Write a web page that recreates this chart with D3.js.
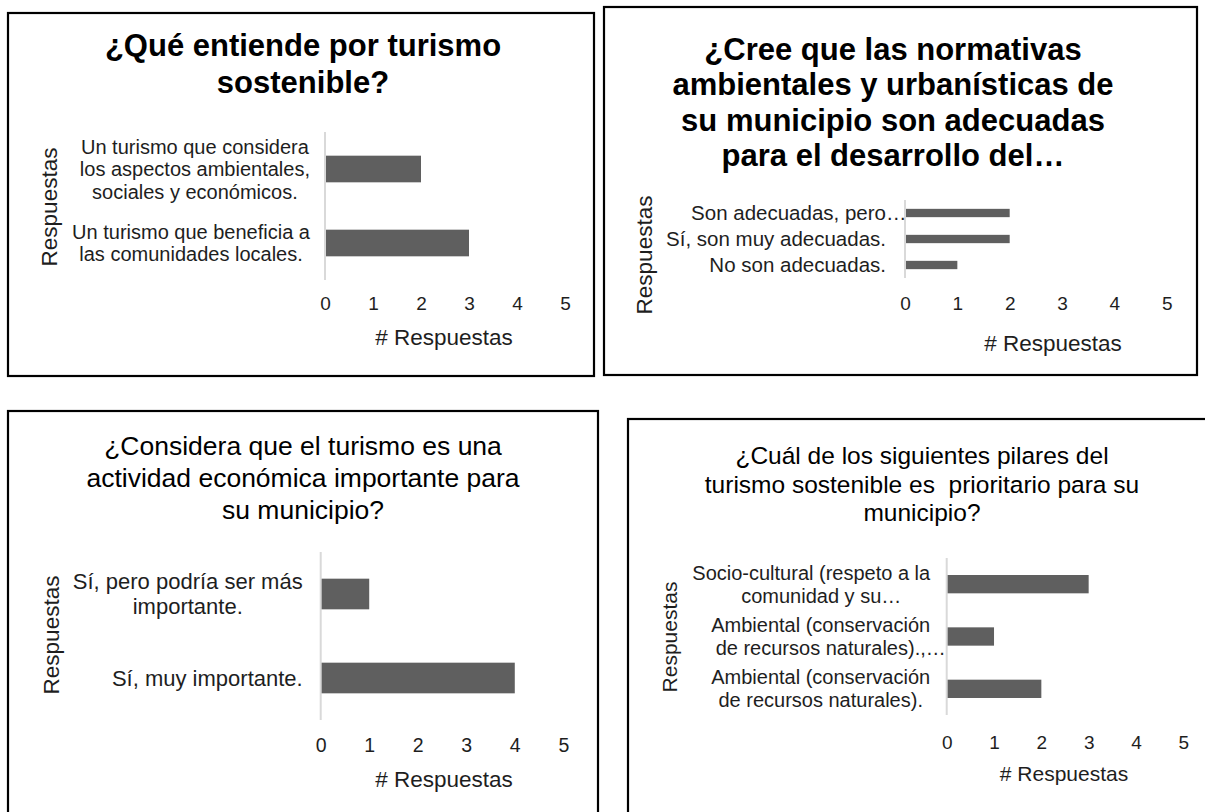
<!DOCTYPE html>
<html>
<head>
<meta charset="utf-8">
<script src="https://cdn.jsdelivr.net/npm/d3@7"></script>
<style>
  body { margin: 0; background: #fff; }
  svg { display: block; }
</style>
</head>
<body>
<svg id="chart"></svg>
<script>
// ---- data ----
const tickValues = [0, 1, 2, 3, 4, 5];
const xAxisTitle = '# Respuestas';
const yAxisTitle = 'Respuestas';

const q1Title = ['¿Qué entiende por turismo', 'sostenible?'];
const q1Answers = [
  ['Un turismo que considera', 'los aspectos ambientales,', 'sociales y económicos.'],
  ['Un turismo que beneficia a', 'las comunidades locales.']
];
const q1Counts = [2, 3];

const q2Title = ['¿Cree que las normativas', 'ambientales y urbanísticas de', 'su municipio son adecuadas', 'para el desarrollo del…'];
const q2Answers = [['Son adecuadas, pero…'], ['Sí, son muy adecuadas.'], ['No son adecuadas.']];
const q2Counts = [2, 2, 1];

const q3Title = ['¿Considera que el turismo es una', 'actividad económica importante para', 'su municipio?'];
const q3Answers = [['Sí, pero podría ser más', 'importante.'], ['Sí, muy importante.']];
const q3Counts = [1, 4];

const q4Title = ['¿Cuál de los siguientes pilares del', 'turismo sostenible es  prioritario para su', 'municipio?'];
const q4Answers = [
  ['Socio-cultural (respeto a la', 'comunidad y su…'],
  ['Ambiental (conservación', 'de recursos naturales).,…'],
  ['Ambiental (conservación', 'de recursos naturales).']
];
const q4Counts = [3, 1, 2];

// ---- layout ----
const W = 1205, H = 812;
const FONT = '"Liberation Sans", Arial, sans-serif';
const ink = '#1e1e1e';
const barColor = '#5f5f5f';
const axisColor = '#d9d9d9';

const svg = d3.select('#chart')
  .attr('width', W)
  .attr('height', H)
  .attr('font-family', FONT);

svg.append('rect').attr('width', W).attr('height', H).attr('fill', '#fff');

let panels = [
  { title: q1Title, answers: q1Answers, counts: q1Counts,
    box: [8, 13, 586, 363], titleX: 303, titleY: 56, titleLH: 36.5, titleSize: 31, titleWeight: 'bold',
    xRange: [325, 565], yRange: [132, 280], pad: 0.64,
    tickY: 303, tickSize: 19, xTitleX: 444, xTitleY: 337, xTitleSize: 22.5,
    yTitleX: 49, yTitleY: 207, labelSize: 20, labelLH: 22.5, labelGap: 15 },
  { title: q2Title, answers: q2Answers, counts: q2Counts,
    box: [604, 7, 593, 368], titleX: 893, titleY: 60, titleLH: 35.3, titleSize: 31, titleWeight: 'bold',
    xRange: [905, 1166.7], yRange: [200, 278], pad: 0.68,
    tickY: 303, tickSize: 19, xTitleX: 1053, xTitleY: 343, xTitleSize: 22.5,
    yTitleX: 644, yTitleY: 255, labelSize: 20.5, labelLH: 22.5, labelGap: 19 },
  { title: q3Title, answers: q3Answers, counts: q3Counts,
    box: [8, 411, 590, 460], titleX: 303, titleY: 455, titleLH: 32, titleSize: 26.5, titleWeight: 'normal',
    xRange: [320.7, 563.3], yRange: [552, 720], pad: 0.635,
    tickY: 745, tickSize: 19.5, xTitleX: 444, xTitleY: 779, xTitleSize: 22.5,
    yTitleX: 51, yTitleY: 635, labelSize: 22, labelLH: 25.5, labelGap: 18 },
  { title: q4Title, answers: q4Answers, counts: q4Counts,
    box: [628, 419, 640, 460], titleX: 922, titleY: 464, titleLH: 28.5, titleSize: 24.5, titleWeight: 'normal',
    xRange: [946.7, 1183.3], yRange: [558, 715], pad: 0.65,
    tickY: 742, tickSize: 19, xTitleX: 1064, xTitleY: 773.5, xTitleSize: 21,
    yTitleX: 670, yTitleY: 637, labelSize: 20, labelLH: 23, labelGap: 16.5 }
];

let drawPanel = function (p) {
  let g = svg.append('g');

  // Frame round the chart
  g.append('rect')
    .attr('x', p.box[0]).attr('y', p.box[1])
    .attr('width', p.box[2]).attr('height', p.box[3])
    .attr('fill', 'none')
    .attr('stroke', '#000')
    .attr('stroke-width', 2.2);

  // Title, one tspan per line
  g.append('text')
    .attr('text-anchor', 'middle')
    .attr('font-size', p.titleSize)
    .attr('font-weight', p.titleWeight)
    .attr('fill', '#000')
    .style('white-space', 'pre')
    .selectAll('tspan')
    .data(p.title)
    .join('tspan')
    .attr('x', p.titleX)
    .attr('y', (d, i) => p.titleY + i * p.titleLH)
    .text((d) => d);

  let x = d3.scaleLinear().domain([0, 5]).range(p.xRange);
  let y = d3.scaleBand()
    .domain(d3.range(p.counts.length))
    .range(p.yRange)
    .paddingInner(p.pad)
    .paddingOuter(p.pad / 2);

  // Bars
  g.selectAll('.bar')
    .data(p.counts)
    .join('rect')
    .attr('class', 'bar')
    .attr('x', x(0))
    .attr('y', (d, i) => y(i))
    .attr('width', (d) => x(d) - x(0))
    .attr('height', y.bandwidth())
    .attr('fill', barColor);

  // Vertical category axis line
  g.append('line')
    .attr('x1', x(0)).attr('x2', x(0))
    .attr('y1', p.yRange[0]).attr('y2', p.yRange[1])
    .attr('stroke', axisColor)
    .attr('stroke-width', 2);

  // Value axis: labels only
  let xAxis = g.append('g')
    .attr('transform', 'translate(0,' + p.tickY + ')')
    .call(d3.axisBottom(x).tickValues(tickValues).tickFormat(d3.format('d')).tickSize(0).tickPadding(0));
  xAxis.select('.domain').remove();
  xAxis.attr('font-family', FONT).attr('font-size', p.tickSize);
  xAxis.selectAll('text')
    .attr('y', 0)
    .attr('dy', '0.35em')
    .attr('fill', ink);

  // Axis titles
  g.append('text')
    .attr('x', p.xTitleX).attr('y', p.xTitleY)
    .attr('dy', '0.35em')
    .attr('text-anchor', 'middle')
    .attr('font-size', p.xTitleSize)
    .attr('fill', ink)
    .text(xAxisTitle);

  g.append('text')
    .attr('transform', 'translate(' + p.yTitleX + ',' + p.yTitleY + ') rotate(-90)')
    .attr('dy', '0.35em')
    .attr('text-anchor', 'middle')
    .attr('font-size', p.xTitleSize)
    .attr('fill', ink)
    .text(yAxisTitle);

  // Category labels: block sits against the axis, lines centred inside the block,
  // a trailing ellipsis is allowed to stick out
  let labels = g.append('g').attr('font-size', p.labelSize).attr('fill', ink);
  p.answers.forEach((lines, i) => {
    let cy = y(i) + y.bandwidth() / 2;
    let texts = lines.map((s, j) => labels.append('text')
      .attr('y', cy + (j - (lines.length - 1) / 2) * p.labelLH)
      .attr('dy', '0.35em')
      .text(s));
    let core = texts.map((t, j) => {
      let s = lines[j];
      let node = t.node();
      return s.endsWith('…') ? node.getSubStringLength(0, s.length - 1) : node.getComputedTextLength();
    });
    let right = x(0) - p.labelGap;
    let cx = right - d3.max(core) / 2;
    texts.forEach((t, j) => t.attr('x', cx - core[j] / 2));
  });
};

panels.forEach(drawPanel);
</script>
</body>
</html>
